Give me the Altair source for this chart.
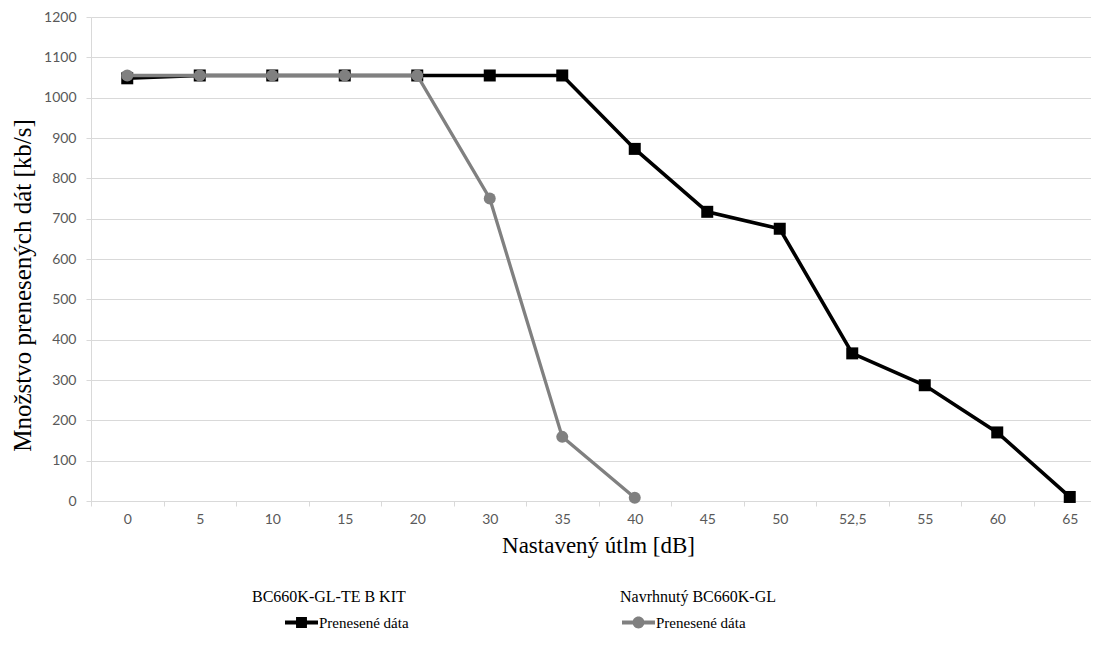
import altair as alt
import pandas as pd

# ---- data ----
categories = ["0", "5", "10", "15", "20", "30", "35", "40", "45", "50", "52,5", "55", "60", "65"]
kit_values = [1048, 1055, 1055, 1055, 1055, 1055, 1055, 873, 717, 675, 366, 287, 170, 10]
custom_categories = ["0", "5", "10", "15", "20", "30", "35", "40"]
custom_values = [1055, 1055, 1055, 1055, 1055, 750, 159, 8]
y_ticks = list(range(0, 1201, 100))

series_kit = "BC660K-GL-TE B KIT"
series_custom = "Navrhnutý BC660K-GL"
entry_label = "Prenesené dáta"

df_kit = pd.DataFrame({"utlm": categories, "data": kit_values, "s": entry_label})
df_custom = pd.DataFrame({"utlm": custom_categories, "data": custom_values, "s": entry_label})

SERIF = "Liberation Serif"
SANS = "Lato"
GRID = "#d9d9d9"
TICKTXT = "#595959"
BLACK = "#000000"
GREY = "#808080"

x_enc = alt.X(
    "utlm:N",
    scale=alt.Scale(type="band", domain=categories, range=[0, 1015], paddingInner=0, paddingOuter=0),
    axis=alt.Axis(
        title="Nastavený útlm [dB]", labelAngle=0, tickBand="extent", grid=False,
        domainColor=GRID, tickColor=GRID, tickSize=5, domainWidth=1,
        labelColor=TICKTXT, labelFont=SANS, labelFontSize=14, labelPadding=6,
        titleFont=SERIF, titleFontSize=23, titleFontWeight="normal", titleColor=BLACK,
        titleX=507, titlePadding=8,
    ),
)
y_enc = alt.Y(
    "data:Q",
    scale=alt.Scale(domain=[0, 1200], nice=False),
    axis=alt.Axis(
        values=y_ticks, format="d", title="Množstvo prenesených dát [kb/s]", grid=True, gridColor=GRID,
        domainColor=GRID, tickColor=GRID, tickSize=5,
        labelColor=TICKTXT, labelFont=SANS, labelFontSize=14, labelPadding=10,
        titleFont=SERIF, titleFontSize=25, titleFontWeight="normal", titleColor=BLACK,
        titleBaseline="middle", titleX=-69, titleY=268,
    ),
)

square_path = "M-1,-0.12L1,-0.12L1,0.12L-1,0.12Z M-0.33,-0.33L0.33,-0.33L0.33,0.33L-0.33,0.33Z"
circle_path = "M-1,-0.12L1,-0.12L1,0.12L-1,0.12Z M-0.36,0A0.36,0.36 0 1,1 0.36,0A0.36,0.36 0 1,1 -0.36,0Z"


def legend(title, lx, path, sym_off):
    return alt.Legend(
        title=title, orient="none", legendX=lx, legendY=572, padding=0,
        titleFont=SERIF, titleFontSize=16, titleFontWeight="normal", titleColor=BLACK,
        titlePadding=1, titleAnchor="start",
        labelFont=SERIF, labelFontSize=15, labelColor=BLACK,
        symbolType=path, symbolSize=1089, symbolStrokeWidth=0,
        symbolOffset=sym_off, labelOffset=1,
    )


line_kit = alt.Chart(df_kit).mark_line(color=BLACK, strokeWidth=3.6).encode(x=x_enc, y=y_enc)
pts_kit = alt.Chart(df_kit).mark_point(shape="square", filled=True, size=144, opacity=1).encode(
    x=x_enc, y=y_enc,
    color=alt.Color("s:N", scale=alt.Scale(domain=[entry_label], range=[BLACK]),
                    legend=legend(series_kit, 161, square_path, 33)),
)
line_custom = alt.Chart(df_custom).mark_line(color=GREY, strokeWidth=3.3).encode(x=x_enc, y=y_enc)
pts_custom = alt.Chart(df_custom).mark_point(shape="circle", filled=True, size=144, opacity=1).encode(
    x=x_enc, y=y_enc,
    color=alt.Color("s:N", scale=alt.Scale(domain=[entry_label], range=[GREY]),
                    legend=legend(series_custom, 529, circle_path, 2)),
)

layer_kit = alt.layer(line_kit, pts_kit)
layer_custom = alt.layer(line_custom, pts_custom)

chart = (
    alt.layer(layer_kit, layer_custom)
    .resolve_scale(color="independent")
    .properties(
        width=1000, height=484,
        autosize=alt.AutoSizeParams(type="none"),
        padding={"left": 83, "top": 9, "right": 0, "bottom": 129},
        background="white",
    )
    .configure_view(stroke=None)
    .configure_legend(labelFont=SERIF, titleFont=SERIF)
)

chart.save("out.html", embed_options={"renderer": "svg", "actions": False})
